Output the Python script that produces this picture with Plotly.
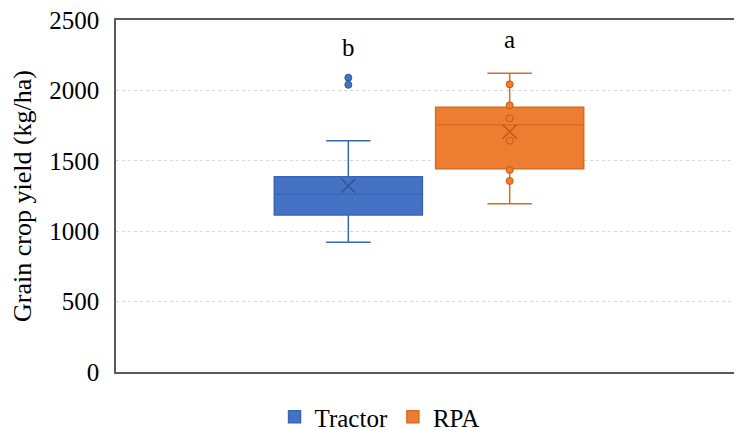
import plotly.graph_objects as go

# ---- data ----
groups = ["Tractor", "RPA"]
q1 = [1115, 1444]
median = [1262, 1756]
q3 = [1387, 1880]
lower_fence = [921, 1195]
upper_fence = [1643, 2121]
means = [1323, 1707]
tractor_points = [2090, 2040]
rpa_points = [2043, 1894, 1802, 1643, 1435, 1357]
letters = ["b", "a"]
letter_y = [2305, 2360]
y_ticks = [0, 500, 1000, 1500, 2000, 2500]

fills = ["#4472C4", "#ED7D31"]
lines = ["#3A66B5", "#D96C25"]
dark = ["#2F5597", "#C55A11"]
point_sets = [tractor_points, rpa_points]

FONT = "Liberation Serif"

fig = go.Figure()
for i, g in enumerate(groups):
    fig.add_trace(go.Box(
        x=[g], q1=[q1[i]], median=[median[i]], q3=[q3[i]],
        lowerfence=[lower_fence[i]], upperfence=[upper_fence[i]],
        name=g, fillcolor=fills[i],
        line=dict(color=lines[i], width=1.5),
        width=0.918, whiskerwidth=0.3, boxpoints=False,
        showlegend=True, hoverinfo="skip",
    ))
for i, g in enumerate(groups):
    pts = point_sets[i]
    fig.add_trace(go.Scatter(
        x=[g] * len(pts), y=pts, mode="markers",
        marker=dict(symbol="circle", size=7, color=fills[i],
                    line=dict(color=dark[i], width=1)),
        showlegend=False, hoverinfo="skip",
    ))
    fig.add_trace(go.Scatter(
        x=[g], y=[means[i]], mode="markers",
        marker=dict(symbol="x-thin", size=14,
                    line=dict(color=dark[i], width=1.6)),
        showlegend=False, hoverinfo="skip",
    ))

for i, g in enumerate(groups):
    fig.add_annotation(x=g, y=letter_y[i], text=letters[i], showarrow=False,
                       font=dict(family=FONT, size=25, color="#000000"))

# page body has an 8px default margin, so the figure is 8px smaller
fig.update_layout(
    width=734, height=422,
    margin=dict(l=108, r=0, t=12, b=58, autoexpand=False),
    paper_bgcolor="white", plot_bgcolor="white",
    font=dict(family=FONT, size=25, color="#000000"),
    boxmode="overlay",
    legend=dict(orientation="h", x=0.421, xanchor="center", y=-0.128,
                yanchor="middle", font=dict(family=FONT, size=25),
                itemwidth=30, traceorder="normal"),
)
fig.update_xaxes(
    type="category", categoryorder="array", categoryarray=groups,
    range=[-1.44, 2.44], showticklabels=False, ticks="",
    showline=True, mirror=True, linecolor="#595959", linewidth=1.5,
    showgrid=False, zeroline=False,
)
fig.update_yaxes(
    range=[0, 2500], tickvals=y_ticks, ticks="",
    ticklabelstandoff=10, ticklabeloverflow="allow",
    showline=True, linecolor="#595959", linewidth=1.5,
    showgrid=True, gridcolor="#D9D9D9", griddash="dot", gridwidth=1,
    zeroline=False,
    title=dict(text="Grain crop yield (kg/ha)", standoff=12,
               font=dict(family=FONT, size=26)),
)

fig.write_html("out.html")
